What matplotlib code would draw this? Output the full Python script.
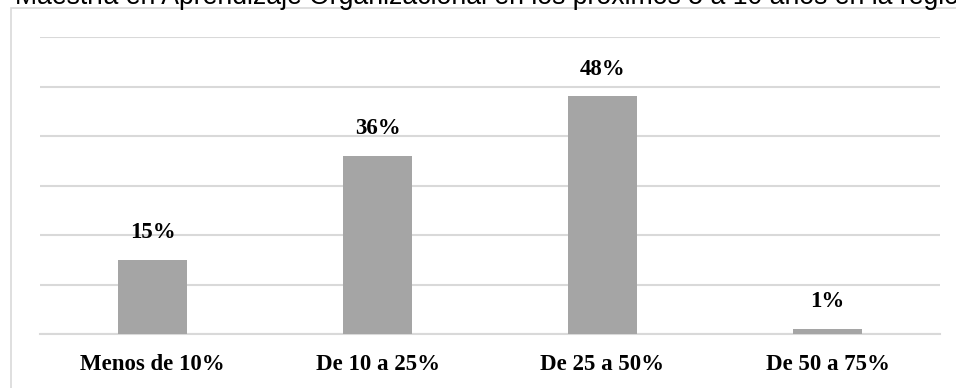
import matplotlib.pyplot as plt
from matplotlib.patches import Rectangle

# rangos y porcentajes
categorias = ["Menos de 10%", "De 10 a 25%", "De 25 a 50%", "De 50 a 75%"]
valores = [15, 36, 48, 1]
etiquetas = ["15%", "36%", "48%", "1%"]
titulo = "Maestría en Aprendizaje Organizacional en los próximos 5 a 10 años en la región"

W, H = 956, 388
fig = plt.figure(figsize=(W / 100, H / 100), dpi=100)

# recuadro del grafico (se sale por la derecha y abajo)
fig.patches.append(Rectangle((10.5 / W, -0.1), 1.2, 1 - 7.5 / H + 0.1,
                             transform=fig.transFigure, fill=False,
                             edgecolor="#D9D9D9", linewidth=1.2))

# titulo cortado arriba
fig.text(15 / W, 1 - 4 / H, titulo, fontsize=19.2, family="Liberation Sans",
         ha="left", va="baseline", color="black")

ax = fig.add_axes([40 / W, 1 - 334 / H, 900 / W, (334 - 37) / H])
x = range(len(categorias))
ax.bar(x, valores, width=0.31, color="#A5A5A5", zorder=3)
ax.set_xlim(-0.5, 3.5)
ax.set_ylim(0, 60)
ax.set_yticks(range(0, 61, 10))
ax.yaxis.grid(True, color="#D9D9D9", linewidth=1.5, zorder=0)
ax.tick_params(left=False, bottom=False, labelleft=False, pad=11)
for s in ["top", "right", "left"]:
    ax.spines[s].set_visible(False)
ax.spines["bottom"].set_color("#D9D9D9")
ax.spines["bottom"].set_linewidth(1.5)

ax.set_xticks(list(x))
ax.set_xticklabels(categorias, fontsize=16.5, fontweight="bold",
                   family="Liberation Serif")

for i, v in enumerate(valores):
    ax.annotate(etiquetas[i], (i, v), xytext=(0, 12), textcoords="offset points",
                ha="center", va="bottom", fontsize=16.5, fontweight="bold",
                family="Liberation Serif", zorder=4)

fig.savefig("out.png", dpi=100)
